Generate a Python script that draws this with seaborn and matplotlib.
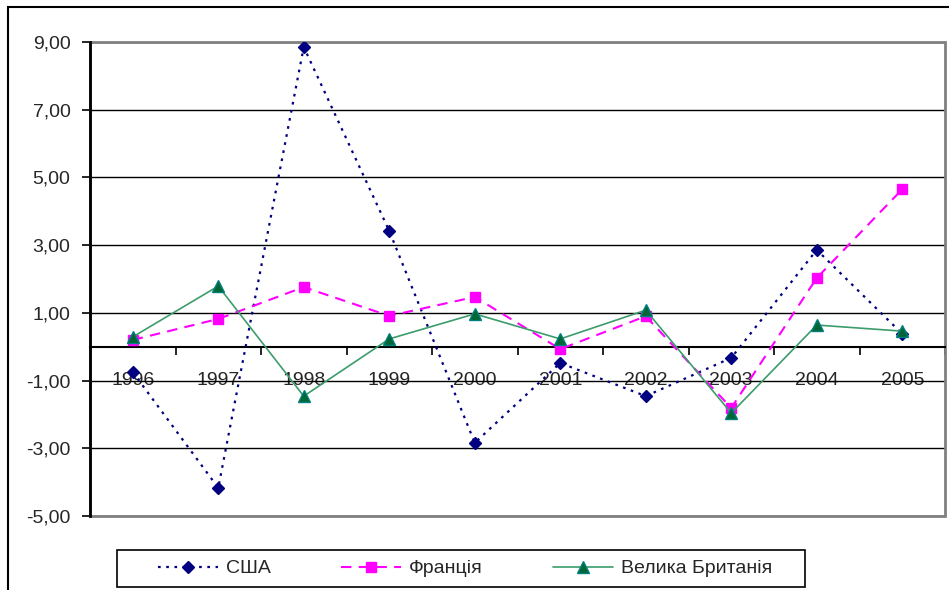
import numpy as np
import pandas as pd
import matplotlib.pyplot as plt
import seaborn as sns
from matplotlib.patches import Rectangle
from matplotlib.ticker import FuncFormatter, FixedLocator

years = ["1996", "1997", "1998", "1999", "2000", "2001", "2002", "2003", "2004", "2005"]
usa = [-0.75, -4.17, 8.85, 3.42, -2.84, -0.48, -1.46, -0.33, 2.86, 0.38]
france = [0.20, 0.82, 1.76, 0.91, 1.47, -0.07, 0.90, -1.81, 2.03, 4.65]
uk = [0.29, 1.79, -1.46, 0.23, 0.97, 0.23, 1.08, -1.96, 0.64, 0.46]
series_names = ["США", "Франція", "Велика Британія"]
y_ticks = [-5, -3, -1, 1, 3, 5, 7, 9]

sns.set_style("white")
plt.rcParams["font.family"] = ["Liberation Sans", "DejaVu Sans"]
plt.rcParams["font.size"] = 14

fig = plt.figure(figsize=(9.49, 5.90), dpi=100)
ax = fig.add_axes([90 / 949, 1 - 516 / 590, 855 / 949, 474 / 590])

x = np.arange(len(years))
styles = [
    dict(color="#000080", ls=(0, (1.2, 2.5)), lw=1.6, marker="D", ms=6, mfc="#000080", mec="#000080"),
    dict(color="#ff00ff", ls=(0, (5, 3.5)), lw=1.5, marker="s", ms=7, mfc="#ff00ff", mec="#ff00ff"),
    dict(color="#3c9c6c", ls="-", lw=1.2, marker="^", ms=8, mfc="#006633", mec="#008080"),
]
for name, vals, st in zip(series_names, [usa, france, uk], styles):
    df = pd.DataFrame({"x": x, "v": vals})
    sns.lineplot(data=df, x="x", y="v", ax=ax, label=name, color=st["color"],
                 linestyle=st["ls"], linewidth=st["lw"], marker=st["marker"],
                 markersize=st["ms"], markerfacecolor=st["mfc"],
                 markeredgecolor=st["mec"], markeredgewidth=1, zorder=5)

ax.set_xlim(-0.5, len(years) - 0.5)
ax.set_ylim(-5, 9)
ax.set_xlabel("")
ax.set_ylabel("")

# y axis
ax.yaxis.set_major_locator(FixedLocator(y_ticks))
ax.yaxis.set_major_formatter(FuncFormatter(lambda v, p: f"{v:.2f}".replace(".", ",")))
ax.yaxis.grid(True, color="black", lw=1)
ax.tick_params(axis="y", left=True, length=6, width=1.2, color="black", pad=8, labelsize=14)

# x axis at zero, ticks between categories
ax.spines["bottom"].set_position(("data", 0))
ax.spines["bottom"].set_color("black")
ax.spines["bottom"].set_linewidth(1.5)
ax.set_xticks(np.arange(-0.5, len(years)), labels=[""] * (len(years) + 1))
ax.set_xticks(x, labels=years, minor=True)
ax.tick_params(axis="x", which="major", bottom=True, direction="out", length=6, width=1.2, color="black")
ax.tick_params(axis="x", which="minor", bottom=True, length=0, pad=18, labelsize=14)

ax.spines["left"].set_color("black")
ax.spines["left"].set_linewidth(2)
for s in ["top", "right"]:
    ax.spines[s].set_visible(False)
ax.add_patch(Rectangle((0, 0), 1, 1, transform=ax.transAxes, fill=False,
                       edgecolor="#808080", lw=2, zorder=1, clip_on=False))

# outer chart border
fig.patches.append(Rectangle((8 / 949, -0.1), 1.1, 1 - 7 / 590 + 0.1, transform=fig.transFigure,
                             fill=False, edgecolor="black", lw=1.5))

# legend entries without frame, frame drawn as a separate box
leg = ax.legend(loc="center", bbox_to_anchor=(465 / 949, 1 - 568.5 / 590),
                bbox_transform=fig.transFigure, ncol=3, frameon=False,
                handlelength=3.1, columnspacing=3.6, fontsize=14,
                borderpad=0.35, handletextpad=0.4, borderaxespad=0)
fig.patches.append(Rectangle((117 / 949, 1 - 587 / 590), 688 / 949, 37 / 590,
                             transform=fig.transFigure, fill=False, edgecolor="black", lw=1.2))

fig.savefig("out.png", dpi=100, facecolor="white")
